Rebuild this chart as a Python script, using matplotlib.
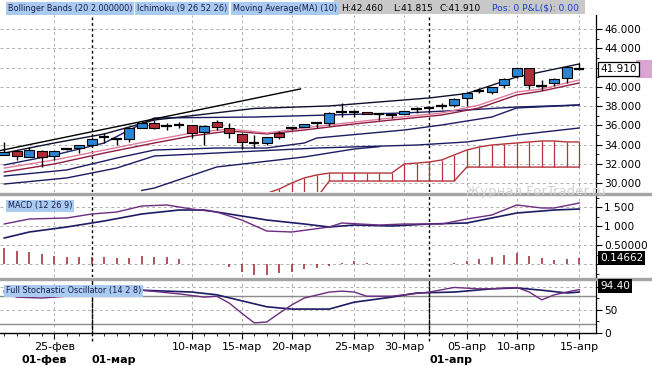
import numpy as np
import matplotlib
matplotlib.use("Agg")
import matplotlib.pyplot as plt
import matplotlib.transforms as mtransforms
from matplotlib.patches import Rectangle
from matplotlib.lines import Line2D

# =====================================================
# DATA (one entry per daily bar)
# =====================================================

opens = [32.95, 33.35, 32.75, 33.35, 32.80, 33.55, 33.65, 33.95, 34.80, 34.60,
         34.60, 35.75, 36.25, 35.95, 36.05, 36.05, 35.30, 36.35, 35.75, 35.10,
         34.20, 34.20, 35.20, 35.75, 35.85, 36.25, 36.25, 37.40, 37.40, 37.40,
         37.20, 37.10, 37.20, 37.70, 37.80, 38.00, 38.15, 38.85, 39.55, 39.50,
         40.20, 41.15, 41.95, 40.10, 40.40, 40.95, 41.95]
highs = [34.30, 33.45, 33.75, 33.50, 33.40, 33.65, 34.00, 34.80, 35.20, 34.65,
         35.80, 36.45, 36.55, 36.25, 36.35, 36.10, 36.00, 36.60, 36.25, 35.20,
         35.00, 34.85, 35.40, 35.80, 36.20, 36.35, 37.35, 38.30, 37.60, 37.45,
         37.25, 37.20, 37.55, 37.90, 38.00, 38.30, 38.85, 39.45, 39.90, 40.05,
         40.90, 42.00, 42.00, 40.75, 40.90, 42.10, 42.46]
lows = [32.90, 32.40, 32.70, 31.70, 32.45, 33.45, 33.15, 33.90, 34.20, 33.95,
        34.30, 35.70, 35.60, 35.55, 35.75, 34.70, 33.97, 35.50, 34.70, 33.55,
        33.65, 34.00, 34.60, 35.55, 35.80, 35.75, 35.95, 36.85, 36.85, 37.15,
        36.60, 36.80, 37.15, 37.30, 37.50, 37.70, 37.95, 38.05, 39.35, 39.25,
        39.90, 40.95, 39.80, 39.70, 40.10, 40.40, 41.815]
closes = [33.25, 32.85, 33.45, 32.75, 33.35, 33.55, 33.95, 34.60, 34.80, 34.60,
          35.75, 36.25, 35.75, 35.95, 36.05, 35.20, 35.95, 35.85, 35.20, 34.30,
          34.20, 34.80, 34.80, 35.75, 36.15, 36.25, 37.30, 37.40, 37.40, 37.20,
          37.20, 37.10, 37.50, 37.70, 37.80, 38.00, 38.75, 39.35, 39.55, 40.00,
          40.85, 41.95, 40.20, 40.10, 40.85, 42.05, 41.91]

# trend line (black)
trend_x = [-0.3, 23.7]
trend_y = [33.40, 39.80]

# upper band (black)
upper_x = [0, 4, 8, 12, 20, 26, 34, 37, 41, 46]
upper_y = [33.14, 34.18, 35.12, 36.57, 37.77, 38.03, 38.86, 39.32, 41.04, 42.39]

# navy lines
navy1_x = [0, 4, 8, 10, 12, 20, 26, 32, 37, 41, 46]
navy1_y = [31.90, 32.93, 34.18, 35.53, 36.78, 36.88, 37.09, 37.30, 37.61, 37.92, 38.13]

navy2_x = [0, 5, 9, 12, 17, 21, 24, 25, 32, 35, 39, 41, 46]
navy2_y = [30.75, 31.38, 32.62, 33.45, 33.66, 33.66, 34.18, 34.70, 35.53, 36.05, 36.88, 37.82, 38.13]

navy3_x = [0, 5, 9, 12, 17, 25, 33, 37, 41, 46]
navy3_y = [29.92, 30.55, 31.58, 32.83, 33.14, 33.66, 33.97, 34.29, 35.01, 35.74]

navy4_x = [11, 12, 17, 24, 28, 30]
navy4_y = [29.25, 29.50, 31.69, 32.73, 33.56, 33.80]

# moving averages (pink / dark red)
ma_x = [0, 4, 8, 12, 15, 18, 21, 24, 28, 31, 35, 38, 41, 43, 46]
ma_pink = [31.58, 32.42, 33.45, 34.49, 35.22, 35.64, 35.22, 35.74, 36.36, 36.78,
           37.30, 38.13, 39.48, 39.79, 40.73]
ma_red = [31.17, 32.00, 33.14, 34.18, 34.91, 35.43, 35.12, 35.53, 36.16, 36.57,
          37.09, 37.82, 39.17, 39.58, 40.42]

# ichimoku cloud (bars 21..46)
cloud_idx = list(range(21, 47))
cloud_top = [28.95, 29.40, 30.03, 30.55, 30.86, 31.06, 31.06, 31.06, 31.06, 31.06,
             31.06, 32.00, 32.10, 32.21, 32.42, 32.94, 33.45, 33.77, 33.97, 34.08,
             34.18, 34.29, 34.39, 34.39, 34.29, 34.29]
cloud_bot = [28.50, 28.50, 28.50, 28.50, 28.50, 30.23, 30.23, 30.23, 30.23, 30.23,
             30.23, 30.23, 30.23, 30.23, 30.23, 30.23, 31.68, 31.68, 31.68, 31.68,
             31.68, 31.68, 31.68, 31.68, 31.68, 31.68]

# MACD (12 26 9)
macd_x = [0, 2, 5, 7, 9, 11, 13, 15, 17, 19, 21, 23, 26, 27, 30, 32, 35, 37, 39,
          41, 43, 44, 46]
macd_y = [1.053, 1.184, 1.211, 1.316, 1.368, 1.526, 1.553, 1.447, 1.368, 1.158,
          0.868, 0.842, 0.974, 1.079, 1.026, 1.053, 1.053, 1.184, 1.289, 1.553,
          1.474, 1.474, 1.605]
signal_x = [0, 2, 5, 8, 11, 14, 16, 18, 21, 24, 26, 28, 31, 34, 37, 39, 41, 44, 46]
signal_y = [0.684, 0.842, 0.974, 1.132, 1.316, 1.421, 1.421, 1.316, 1.158, 1.053,
            0.974, 1.026, 1.000, 1.053, 1.079, 1.211, 1.342, 1.421, 1.447]
hist = [0.42, 0.34, 0.32, 0.26, 0.21, 0.18, 0.18, 0.18, 0.18, 0.16,
        0.16, 0.21, 0.18, 0.18, 0.13, 0.01, 0.00, 0.00, -0.08, -0.21,
        -0.29, -0.29, -0.24, -0.21, -0.13, -0.11, -0.05, 0.03, 0.08, 0.03,
        0.01, 0.00, 0.01, 0.01, 0.00, 0.01, 0.03, 0.08, 0.13, 0.18,
        0.24, 0.29, 0.21, 0.16, 0.11, 0.13, 0.147]

# Full Stochastic (14 2 8)
stk_x = [0, 1, 3, 5, 7, 9, 11, 14, 16, 17, 18, 19, 20, 21, 22, 23, 24, 26, 27,
         28, 29, 31, 32, 34, 36, 38, 39, 41, 42, 43, 44, 45, 46]
stk_y = [87, 78, 76, 80, 89, 93, 93, 85, 78, 80, 65, 43, 22, 24, 43, 61, 76, 89,
         91, 89, 80, 80, 83, 89, 99, 96, 96, 99, 89, 72, 83, 89, 94.4]
std_x = [0, 5, 11, 15, 17, 19, 21, 23, 26, 28, 31, 33, 36, 39, 41, 43, 45, 46]
std_y = [91, 90, 93, 89, 83, 70, 57, 52, 52, 67, 78, 87, 89, 96, 98, 93, 87, 89]

# axis labels
date_idx = [4, 15, 19, 23, 28, 32, 37, 41, 46]
date_labels = ["25-фев", "10-мар", "15-мар", "20-мар", "25-мар", "30-мар",
               "05-апр", "10-апр", "15-апр"]
month_idx = [1.4, 7, 34]
month_labels = ["01-фев", "01-мар", "01-апр"]
month_lines = [7, 34]

price_ticks = [30, 32, 34, 36, 38, 40, 42, 44, 46]
macd_ticks = [0.0, 0.5, 1.0, 1.5]
macd_tick_labels = ["", "0.50000", "1 000", "1 500"]
stoch_ticks = [0, 50, 100]
stoch_tick_labels = ["0", "50", ""]

# =====================================================
# STYLE
# =====================================================

W, H = 652, 366
BLUE = "#2a84d4"
RED = "#b02c36"
NAVY = "#1c1c64"
PURPLE = "#6c2c80"
GRID = "#b0b0b0"
CLOUD = "#b4343a"
LABEL_BG = "#a9cbef"
TICK_FS = 7.6
HEAD_FS = 5.9


def fx(px):
    return px / W


def fy(py):
    return 1 - py / H


fig = plt.figure(figsize=(W / 100, H / 100), dpi=100)
fig.patch.set_facecolor("white")

ax_p = fig.add_axes([0, fy(192), fx(596), (192 - 15) / H])
ax_m = fig.add_axes([0, fy(277), fx(596), (277 - 195) / H])
ax_s = fig.add_axes([0, fy(333), fx(596), (333 - 280) / H])

XLIM = (-0.34, 47.34)

for ax in (ax_p, ax_m, ax_s):
    ax.set_xlim(*XLIM)
    for side in ("left", "top", "bottom"):
        ax.spines[side].set_visible(False)
    ax.spines["right"].set_linewidth(0.9)
    ax.yaxis.tick_right()
    ax.tick_params(axis="y", which="major", length=4, width=0.8, pad=2,
                   labelsize=TICK_FS, colors="black")
    ax.tick_params(axis="y", which="minor", length=2, width=0.6)
    ax.tick_params(axis="x", bottom=False, labelbottom=False)
    for i in date_idx:
        ax.axvline(i, color=GRID, lw=0.7, ls=(0, (3, 3)), zorder=0)
    for i in month_lines:
        ax.axvline(i, color="black", lw=1.0, ls=(0, (2, 2)), zorder=1)

# -------- price panel --------
ax_p.set_ylim(29.09, 47.48)
for p in price_ticks:
    ax_p.axhline(p, color=GRID, lw=0.7, ls=(0, (3, 3)), zorder=0)
ax_p.set_yticks(price_ticks)
ax_p.set_yticklabels(["" if p == 42 else f"{p:.3f}" for p in price_ticks])
ax_p.set_yticks(np.arange(30, 47, 1), minor=True)

# cloud hatch
ax_p.vlines(cloud_idx, cloud_bot, cloud_top, color=CLOUD, lw=0.9, zorder=2)
ax_p.plot(cloud_idx, cloud_top, color=CLOUD, lw=1.0, zorder=2)
ax_p.plot(cloud_idx, cloud_bot, color=CLOUD, lw=1.0, zorder=2)

ax_p.plot(navy4_x, navy4_y, color=NAVY, lw=1.0, zorder=3)
ax_p.plot(navy3_x, navy3_y, color=NAVY, lw=1.0, zorder=3)
ax_p.plot(navy2_x, navy2_y, color=NAVY, lw=1.0, zorder=3)
ax_p.plot(navy1_x, navy1_y, color=NAVY, lw=1.0, zorder=3)
ax_p.plot(ma_x, ma_red, color="#8e1c40", lw=1.0, zorder=3)
ax_p.plot(ma_x, ma_pink, color="#e07a9a", lw=1.0, zorder=3)
ax_p.plot(upper_x, upper_y, color="#101030", lw=1.0, zorder=3)
ax_p.plot(trend_x, trend_y, color="black", lw=1.0, zorder=3)

# candles
idx = np.arange(len(closes))
ax_p.vlines(idx, lows, highs, color="black", lw=1.0, zorder=4)
for i in idx:
    o, c = opens[i], closes[i]
    if abs(c - o) < 0.06:
        ax_p.hlines(c, i - 0.42, i + 0.42, color="black", lw=1.6, zorder=5)
    else:
        col = BLUE if c > o else RED
        ax_p.bar(i, abs(c - o), bottom=min(o, c), width=0.82, color=col,
                 edgecolor="black", linewidth=0.8, zorder=5)

# -------- MACD panel --------
ax_m.set_ylim(-0.342, 1.816)
for v in macd_ticks:
    ax_m.axhline(v, color=GRID, lw=0.7, ls=(0, (3, 3)), zorder=0)
ax_m.set_yticks(macd_ticks)
ax_m.set_yticklabels(macd_tick_labels)
ax_m.set_yticks(np.arange(-0.25, 1.8, 0.25), minor=True)
ax_m.vlines(idx, 0, hist, color="#9c2430", lw=1.1, zorder=3)
ax_m.plot(signal_x, signal_y, color=NAVY, lw=1.2, zorder=4)
ax_m.plot(macd_x, macd_y, color=PURPLE, lw=1.0, zorder=4)

# -------- Stochastic panel --------
ax_s.set_ylim(0, 115.2)
ax_s.axhline(50, color=GRID, lw=0.7, ls=(0, (3, 3)), zorder=0)
ax_s.axhline(100, color=GRID, lw=0.7, ls=(0, (3, 3)), zorder=0)
ax_s.axhline(80, color="#8c8c8c", lw=1.0, zorder=1)
ax_s.axhline(20, color="#8c8c8c", lw=1.0, zorder=1)
ax_s.set_yticks(stoch_ticks)
ax_s.set_yticklabels(stoch_tick_labels)
ax_s.set_yticks(np.arange(0, 115, 25), minor=True)
ax_s.plot(std_x, std_y, color=NAVY, lw=1.2, zorder=3)
ax_s.plot(stk_x, stk_y, color=PURPLE, lw=1.0, zorder=3)

ax_s.spines["bottom"].set_visible(True)
ax_s.spines["bottom"].set_linewidth(1.0)
ax_s.set_xticks(date_idx)
ax_s.set_xticks(np.arange(0, 47, 1), minor=True)
ax_s.tick_params(axis="x", which="major", bottom=True, length=4, width=0.8,
                 labelbottom=False)
ax_s.tick_params(axis="x", which="minor", bottom=True, length=2, width=0.6)
for i in month_lines:
    ax_s.axvline(i, ymin=-0.15, ymax=1, color="black", lw=1.0,
                 ls=(0, (2, 2)), clip_on=False, zorder=1)

trans = mtransforms.blended_transform_factory(ax_s.transData, fig.transFigure)
for i, lab in zip(date_idx, date_labels):
    fig.text(i, fy(347), lab, transform=trans, ha="center", va="center",
             fontsize=8)
for i, lab in zip(month_idx, month_labels):
    fig.text(i, fy(360), lab, transform=trans, ha="left", va="center",
             fontsize=8, fontweight="bold")

# -------- separators, header, labels --------
for yy in (193.5, 278.5):
    fig.add_artist(Line2D([0, 1], [fy(yy), fy(yy)], color="#a4a4a4", lw=2.4,
                          transform=fig.transFigure))

fig.patches.append(Rectangle((fx(334), fy(14)), fx(585 - 334), 14 / H,
                             transform=fig.transFigure, fc="#c8c8c8",
                             ec="none"))

box = dict(boxstyle="square,pad=0.2", fc=LABEL_BG, ec="none")
fig.text(fx(8), fy(8.5), "Bollinger Bands (20 2.000000)", fontsize=HEAD_FS,
         color="#1a1a50", va="center", bbox=box)
fig.text(fx(137), fy(8.5), "Ichimoku (9 26 52 26)", fontsize=HEAD_FS,
         color="#1a1a50", va="center", bbox=box)
fig.text(fx(233), fy(8.5), "Moving Average(MA) (10)", fontsize=HEAD_FS,
         color="#1a1a50", va="center", bbox=box)
fig.text(fx(341), fy(8.5), "H:42.460", fontsize=6.6, color="black",
         va="center")
fig.text(fx(393), fy(8.5), "L:41.815", fontsize=6.6, color="black",
         va="center")
fig.text(fx(439), fy(8.5), "C:41.910", fontsize=6.6, color="black",
         va="center")
fig.text(fx(492), fy(8.5), "Pos: 0 P&L($): 0.00", fontsize=6.6,
         color="#1c3cd0", va="center")

fig.text(fx(8), fy(206), "MACD (12 26 9)", fontsize=HEAD_FS,
         color="#1a1a50", va="center", bbox=box, zorder=10)
fig.text(fx(6), fy(291), "Full Stochastic Oscillator (14 2 8)",
         fontsize=HEAD_FS, color="#1a1a50", va="center", bbox=box,
         zorder=10)

# current value boxes
fig.text(fx(600), fy(69), "41.910", fontsize=TICK_FS, va="center", ha="left",
         bbox=dict(boxstyle="square,pad=0.2", fc="white", ec="black", lw=0.9),
         zorder=10)
fig.patches.append(Rectangle((fx(636), fy(78)), fx(16), 18 / H,
                             transform=fig.transFigure, fc="#d9a6d4",
                             ec="none"))
fig.text(fx(600), fy(258), "0.14662", fontsize=TICK_FS, va="center", ha="left",
         color="white", bbox=dict(boxstyle="square,pad=0.2", fc="black",
                                  ec="none"), zorder=10)
fig.text(fx(600), fy(286), "94.40", fontsize=TICK_FS, va="center", ha="left",
         color="white", bbox=dict(boxstyle="square,pad=0.2", fc="black",
                                  ec="none"), zorder=10)

fig.text(fx(466), fy(191), "Журнал ForTrader.ru", fontsize=9.5,
         color="#d2d2d2", va="center", ha="left", zorder=12)

fig.savefig("out.png", dpi=100)
